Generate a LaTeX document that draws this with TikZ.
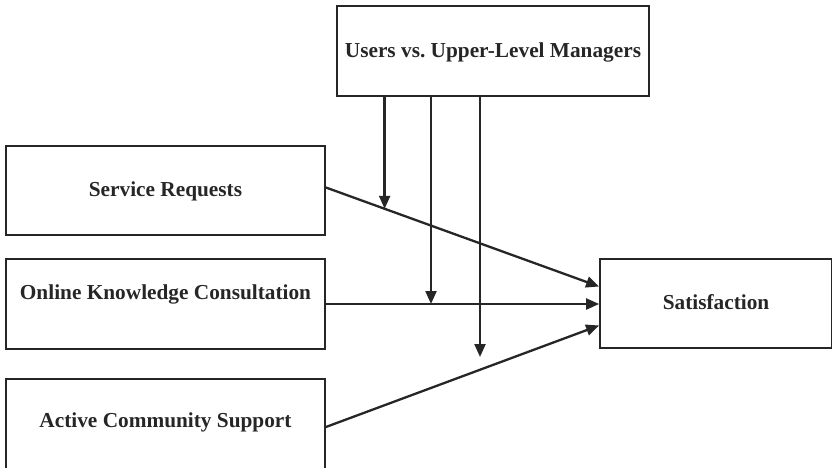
\documentclass[tikz,border=0pt]{standalone}
\usepackage{fontspec}
\setmainfont{Liberation Serif}
\usetikzlibrary{arrows.meta,calc}
\begin{document}
\begin{tikzpicture}[x=1pt,y=-1pt,
  box/.style={draw=black!85,line width=1.8pt,rectangle,inner sep=0pt,anchor=center},
  txt/.style={font=\bfseries\fontsize{21.3}{25}\selectfont,text=black!85,inner sep=0pt,anchor=center},
  arr/.style={draw=black!85,line width=2.3pt,-{Triangle[length=13pt,width=11pt]}}]
\useasboundingbox (0,0) rectangle (832,468);
\begin{scope}
\clip (0,0) rectangle (832,468);
\node[box,minimum width=312pt,minimum height=90pt] (mod) at (493,51) {};
\node[box,minimum width=319pt,minimum height=89pt] (sr) at (165.5,190.5) {};
\node[box,minimum width=319pt,minimum height=90pt] (ok) at (165.5,304) {};
\node[box,minimum width=319pt,minimum height=90pt] (ac) at (165.5,424) {};
\node[box,minimum width=232pt,minimum height=89pt] (sat) at (716,303.5) {};
\end{scope}
\node[txt] (tmod) at (493,52) {Users vs.\ Upper-Level Managers};
\node[txt] (tsr) at (165.5,191) {Service Requests};
\node[txt] (tok) at (165.5,294) {Online Knowledge Consultation};
\node[txt] (tac) at (165.5,422) {Active Community Support};
\node[txt] (tsat) at (716,302) {Satisfaction};
% path endpoints
\coordinate (s1) at ($(sr.east)+(0,-3)$);
\coordinate (s3) at ($(ac.east)+(0,3)$);
\coordinate (e1) at ($(sat.west)+(0,-17)$);
\coordinate (e2) at ($(sat.west)+(0,0.5)$);
\coordinate (e3) at ($(sat.west)+(0,22)$);
\draw[arr] (s1) -- (e1);
\draw[arr] (ok.east) -- (e2);
\draw[arr] (s3) -- (e3);
% moderating arrows
\coordinate (m1) at ($(s1)!0.215!(e1)$);
\coordinate (m2) at (431,304);
\coordinate (m3) at (480,357);
\draw[arr] (mod.south -| m1) -- (m1);
\draw[arr] (mod.south -| m2) -- (m2);
\draw[arr] (mod.south -| m3) -- (m3);
\end{tikzpicture}
\end{document}
